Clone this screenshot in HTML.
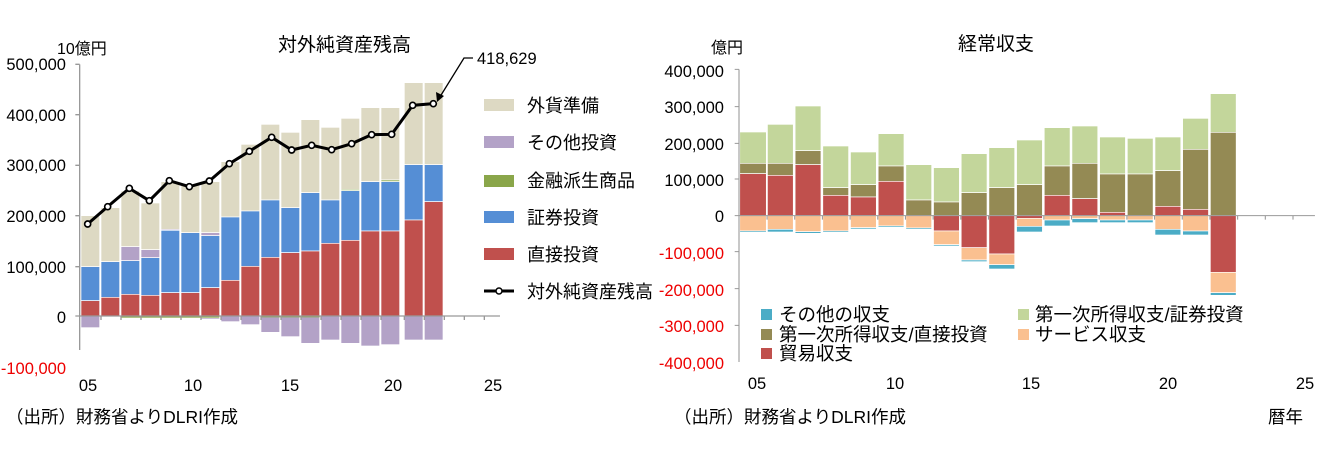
<!DOCTYPE html>
<html><head><meta charset="utf-8"><style>
body{margin:0;background:#fff;width:1323px;height:465px;overflow:hidden;font-family:"Liberation Sans","Noto Sans CJK JP",sans-serif}
svg{position:absolute;left:0;top:0}
text{font-family:"Liberation Sans","Noto Sans CJK JP",sans-serif;fill:#000}
</style></head><body>
<svg width="1323" height="465" viewBox="0 0 1323 465">
<g transform="translate(0,30) scale(0.33333)">
 <g stroke="#fff" stroke-width="2">
 <g fill="#ddd9c3">
  <rect x="243" y="557" width="56" height="153"/><rect x="303" y="533" width="56" height="162"/>
  <rect x="363" y="483" width="56" height="167"/><rect x="423" y="519" width="56" height="140"/>
  <rect x="483" y="455" width="56" height="143"/><rect x="543" y="465" width="56" height="143"/>
  <rect x="603" y="455" width="56" height="153"/><rect x="663" y="395" width="56" height="166"/>
  <rect x="723" y="343" width="56" height="200"/><rect x="783" y="283" width="56" height="227"/>
  <rect x="843" y="307" width="56" height="226"/><rect x="903" y="269" width="56" height="219"/>
  <rect x="963" y="292" width="56" height="218"/><rect x="1023" y="265" width="56" height="213"/>
  <rect x="1083" y="233" width="56" height="222"/><rect x="1143" y="233" width="56" height="217"/>
  <rect x="1213" y="158" width="56" height="246"/><rect x="1273" y="158" width="56" height="246"/>
 </g>
 <g fill="#b3a2c7">
  <rect x="363" y="650" width="56" height="42"/><rect x="423" y="659" width="56" height="24"/>
  <rect x="483" y="598" width="56" height="3"/><rect x="603" y="608" width="56" height="9"/>
  <rect x="243" y="858" width="56" height="35"/><rect x="603" y="864" width="56" height="4"/>
  <rect x="663" y="858" width="56" height="17"/><rect x="723" y="858" width="56" height="26"/>
  <rect x="783" y="858" width="56" height="49"/><rect x="843" y="858" width="56" height="62"/>
  <rect x="903" y="858" width="56" height="82"/><rect x="963" y="858" width="56" height="72"/>
  <rect x="1023" y="858" width="56" height="82"/><rect x="1083" y="858" width="56" height="90"/>
  <rect x="1143" y="858" width="56" height="86"/><rect x="1213" y="858" width="56" height="72"/>
  <rect x="1273" y="858" width="56" height="72"/>
 </g>
 <g fill="#8aa64a">
  <rect x="1023" y="478" width="56" height="4"/><rect x="1143" y="450" width="56" height="5"/>
 </g>
 <g fill="#558ed5">
  <rect x="243" y="710" width="56" height="102"/><rect x="303" y="695" width="56" height="107"/>
  <rect x="363" y="692" width="56" height="101"/><rect x="423" y="683" width="56" height="113"/>
  <rect x="483" y="601" width="56" height="187"/><rect x="543" y="608" width="56" height="180"/>
  <rect x="603" y="617" width="56" height="156"/><rect x="663" y="561" width="56" height="190"/>
  <rect x="723" y="543" width="56" height="166"/><rect x="783" y="510" width="56" height="172"/>
  <rect x="843" y="533" width="56" height="135"/><rect x="903" y="488" width="56" height="175"/>
  <rect x="963" y="510" width="56" height="130"/><rect x="1023" y="482" width="56" height="149"/>
  <rect x="1083" y="455" width="56" height="148"/><rect x="1143" y="455" width="56" height="148"/>
  <rect x="1213" y="404" width="56" height="166"/><rect x="1273" y="404" width="56" height="111"/>
 </g>
 <g fill="#c0504d">
  <rect x="243" y="812" width="56" height="46"/><rect x="303" y="802" width="56" height="56"/>
  <rect x="363" y="793" width="56" height="65"/><rect x="423" y="796" width="56" height="62"/>
  <rect x="483" y="788" width="56" height="70"/><rect x="543" y="788" width="56" height="70"/>
  <rect x="603" y="773" width="56" height="85"/><rect x="663" y="751" width="56" height="107"/>
  <rect x="723" y="709" width="56" height="149"/><rect x="783" y="682" width="56" height="176"/>
  <rect x="843" y="668" width="56" height="190"/><rect x="903" y="663" width="56" height="195"/>
  <rect x="963" y="640" width="56" height="218"/><rect x="1023" y="631" width="56" height="227"/>
  <rect x="1083" y="603" width="56" height="255"/><rect x="1143" y="603" width="56" height="255"/>
  <rect x="1213" y="570" width="56" height="288"/><rect x="1273" y="515" width="56" height="343"/>
 </g>
 </g>
 <g fill="#8aa64a"><rect x="363" y="858" width="295" height="5"/><rect x="783" y="858" width="176" height="4"/></g>
 <g stroke="#999" stroke-width="4" fill="none">
  <line x1="239" y1="103" x2="239" y2="960"/>
  <line x1="239" y1="858" x2="1500" y2="858"/>
  <path d="M226 103H239M226 254H239M226 406H239M226 557H239M226 710H239M226 858H239"/>
  <path d="M303 858v12M363 858v12M423 858v12M483 858v12M543 858v12M603 858v12M663 858v12M723 858v12M783 858v12M843 858v12M903 858v12M963 858v12M1023 858v12M1083 858v12M1143 858v12M1213 858v12M1273 858v12M1333 858v12M1393 858v12M1453 858v12"/>
 </g>
 <polyline fill="none" stroke="#000" stroke-width="9" points="263,582 323,530 388,475 448,512 508,452 568,470 628,453 688,401 748,364 815,322 875,360 935,346 995,359 1055,341 1115,314 1175,313 1238,226 1300,221"/>
 <g fill="#fff" stroke="#000" stroke-width="5">
  <circle cx="263" cy="582" r="9"/><circle cx="323" cy="530" r="9"/><circle cx="388" cy="475" r="9"/><circle cx="448" cy="512" r="9"/><circle cx="508" cy="452" r="9"/><circle cx="568" cy="470" r="9"/><circle cx="628" cy="453" r="9"/><circle cx="688" cy="401" r="9"/><circle cx="748" cy="364" r="9"/><circle cx="815" cy="322" r="9"/><circle cx="875" cy="360" r="9"/><circle cx="935" cy="346" r="9"/><circle cx="995" cy="359" r="9"/><circle cx="1055" cy="341" r="9"/><circle cx="1115" cy="314" r="9"/><circle cx="1175" cy="313" r="9"/><circle cx="1238" cy="226" r="9"/><circle cx="1300" cy="221" r="9"/>
 </g>
</g>
<polyline points="473,58 464,58 438,100" fill="none" stroke="#000" stroke-width="1.3"/>
<polygon points="437,102 436,92 444,96" fill="#000"/>
<text x="477" y="64" font-size="16.5">418,629</text>
<text x="278" y="51" font-size="19">対外純資産残高</text>
<text x="57" y="54" font-size="16">10億円</text>
<g font-size="16.5" text-anchor="end">
 <text x="66" y="70">500,000</text><text x="66" y="121">400,000</text><text x="66" y="171">300,000</text><text x="66" y="222">200,000</text><text x="66" y="273">100,000</text><text x="66" y="323">0</text><text x="66" y="374" style="fill:#e00">-100,000</text>
</g>
<g font-size="16.5" text-anchor="middle"><text x="88" y="391">05</text><text x="193" y="391">10</text><text x="290" y="391">15</text><text x="393" y="391">20</text><text x="493" y="391">25</text></g>
<g>
 <rect x="484" y="99" width="30" height="12" fill="#ddd9c3"/>
 <rect x="484" y="136" width="30" height="12" fill="#b3a2c7"/>
 <rect x="484" y="175" width="30" height="12" fill="#8aa64a"/>
 <rect x="484" y="211" width="30" height="12" fill="#558ed5"/>
 <rect x="484" y="248" width="30" height="12" fill="#c0504d"/>
 <line x1="484" y1="291" x2="514" y2="291" stroke="#000" stroke-width="3"/><circle cx="499" cy="291" r="3" fill="#fff" stroke="#000" stroke-width="1.5"/>
</g>
<g font-size="18"><text x="527" y="112">外貨準備</text><text x="527" y="149">その他投資</text><text x="527" y="187">金融派生商品</text><text x="527" y="224">証券投資</text><text x="527" y="261">直接投資</text><text x="527" y="298">対外純資産残高</text></g>
<text x="6" y="423" font-size="17.5">（出所）財務省よりDLRI作成</text>

<g transform="translate(685.8,30) scale(0.3595,0.33333)">
 <g stroke="#fff" stroke-width="2">
 <g fill="#c3d69b">
  <rect x="150" y="306" width="74" height="94"/><rect x="227" y="283" width="72" height="117"/><rect x="304" y="228" width="72" height="134"/><rect x="381" y="348" width="72" height="125"/><rect x="458" y="366" width="72" height="98"/><rect x="535" y="311" width="72" height="97"/><rect x="612" y="404" width="72" height="106"/><rect x="689" y="413" width="72" height="103"/><rect x="766" y="371" width="72" height="117"/><rect x="843" y="353" width="72" height="120"/><rect x="920" y="330" width="72" height="134"/><rect x="997" y="293" width="72" height="115"/><rect x="1074" y="288" width="72" height="112"/><rect x="1151" y="321" width="72" height="111"/><rect x="1228" y="325" width="72" height="107"/><rect x="1305" y="321" width="72" height="101"/><rect x="1382" y="265" width="72" height="93"/><rect x="1459" y="191" width="72" height="116"/>
 </g>
 <g fill="#948a54">
  <rect x="150" y="400" width="74" height="31"/><rect x="227" y="400" width="72" height="36"/><rect x="304" y="362" width="72" height="42"/><rect x="381" y="473" width="72" height="23"/><rect x="458" y="464" width="72" height="37"/><rect x="535" y="408" width="72" height="46"/><rect x="612" y="510" width="72" height="47"/><rect x="689" y="516" width="72" height="41"/><rect x="766" y="488" width="72" height="69"/><rect x="843" y="473" width="72" height="84"/><rect x="920" y="464" width="72" height="93"/><rect x="997" y="408" width="72" height="88"/><rect x="1074" y="400" width="72" height="106"/><rect x="1151" y="432" width="72" height="115"/><rect x="1228" y="432" width="72" height="125"/><rect x="1305" y="422" width="72" height="107"/><rect x="1382" y="358" width="72" height="180"/><rect x="1459" y="307" width="72" height="250"/>
 </g>
 <g fill="#c0504d">
  <rect x="150" y="431" width="74" height="126"/><rect x="227" y="436" width="72" height="121"/><rect x="304" y="404" width="72" height="153"/><rect x="381" y="496" width="72" height="61"/><rect x="458" y="501" width="72" height="56"/><rect x="535" y="454" width="72" height="103"/><rect x="997" y="496" width="72" height="61"/><rect x="1074" y="506" width="72" height="51"/><rect x="1151" y="547" width="72" height="10"/><rect x="1305" y="529" width="72" height="28"/><rect x="1382" y="538" width="72" height="19"/>
  <rect x="689" y="557" width="72" height="46"/><rect x="766" y="557" width="72" height="96"/><rect x="843" y="557" width="72" height="115"/><rect x="920" y="557" width="72" height="8"/><rect x="1459" y="557" width="72" height="170"/>
 </g>
 <g fill="#fac090">
  <rect x="150" y="557" width="74" height="46"/><rect x="227" y="557" width="72" height="41"/><rect x="304" y="557" width="72" height="48"/><rect x="381" y="557" width="72" height="46"/><rect x="458" y="557" width="72" height="36"/><rect x="535" y="557" width="72" height="31"/><rect x="612" y="557" width="72" height="37"/><rect x="689" y="603" width="72" height="41"/><rect x="766" y="653" width="72" height="37"/><rect x="843" y="672" width="72" height="32"/><rect x="920" y="565" width="72" height="24"/><rect x="997" y="557" width="72" height="13"/><rect x="1074" y="557" width="72" height="9"/><rect x="1151" y="557" width="72" height="13"/><rect x="1228" y="557" width="72" height="13"/><rect x="1305" y="557" width="72" height="41"/><rect x="1382" y="557" width="72" height="46"/><rect x="1459" y="727" width="72" height="61"/>
 </g>
 <g fill="#4bacc6">
  <rect x="150" y="603" width="74" height="4"/><rect x="227" y="598" width="72" height="8"/><rect x="304" y="605" width="72" height="5"/><rect x="381" y="603" width="72" height="4"/><rect x="458" y="593" width="72" height="4"/><rect x="535" y="588" width="72" height="4"/><rect x="612" y="594" width="72" height="4"/><rect x="689" y="644" width="72" height="4"/><rect x="766" y="690" width="72" height="5"/><rect x="843" y="704" width="72" height="13"/><rect x="920" y="589" width="72" height="17"/><rect x="997" y="570" width="72" height="18"/><rect x="1074" y="566" width="72" height="12"/><rect x="1151" y="570" width="72" height="8"/><rect x="1228" y="570" width="72" height="8"/><rect x="1305" y="598" width="72" height="17"/><rect x="1382" y="603" width="72" height="12"/><rect x="1459" y="788" width="72" height="8"/>
 </g>
 </g>
 <g stroke="#999" stroke-width="3" fill="none">
  <line x1="148" y1="118" x2="148" y2="996"/>
  <line x1="148" y1="557" x2="1750" y2="557"/>
  <path d="M136 118H148M136 230H148M136 340H148M136 447H148M136 557H148M136 665H148M136 776H148M136 886H148"/>
  <path d="M226 557v12M303 557v12M380 557v12M457 557v12M534 557v12M611 557v12M688 557v12M765 557v12M842 557v12M919 557v12M996 557v12M1073 557v12M1150 557v12M1227 557v12M1304 557v12M1381 557v12M1458 557v12M1535 557v12M1612 557v12M1689 557v12"/>
 </g>
</g>
<text x="958" y="50" font-size="19">経常収支</text>
<text x="711" y="53" font-size="16">億円</text>
<g font-size="16.5" text-anchor="end">
 <text x="724" y="77">400,000</text><text x="724" y="113">300,000</text><text x="724" y="150">200,000</text><text x="724" y="186">100,000</text><text x="724" y="222">0</text>
 <text x="724" y="259" style="fill:#e00">-100,000</text><text x="724" y="296" style="fill:#e00">-200,000</text><text x="724" y="332" style="fill:#e00">-300,000</text><text x="724" y="369" style="fill:#e00">-400,000</text>
</g>
<g font-size="16.5" text-anchor="middle"><text x="757" y="389">05</text><text x="895" y="389">10</text><text x="1031" y="389">15</text><text x="1168" y="389">20</text><text x="1305" y="389">25</text></g>
<rect x="761" y="309" width="11" height="11" fill="#4bacc6"/><rect x="761" y="329" width="11" height="11" fill="#948a54"/><rect x="761" y="348" width="11" height="11" fill="#c0504d"/>
<rect x="1018" y="309" width="11" height="11" fill="#c3d69b"/><rect x="1018" y="329" width="11" height="11" fill="#fac090"/>
<g font-size="18.5"><text x="779" y="321">その他の収支</text><text x="779" y="341">第一次所得収支/直接投資</text><text x="779" y="360">貿易収支</text><text x="1035" y="321">第一次所得収支/証券投資</text><text x="1035" y="341">サービス収支</text></g>
<text x="674" y="423" font-size="17.5">（出所）財務省よりDLRI作成</text>
<text x="1268" y="423" font-size="17.5">暦年</text>
</svg>
</body></html>
